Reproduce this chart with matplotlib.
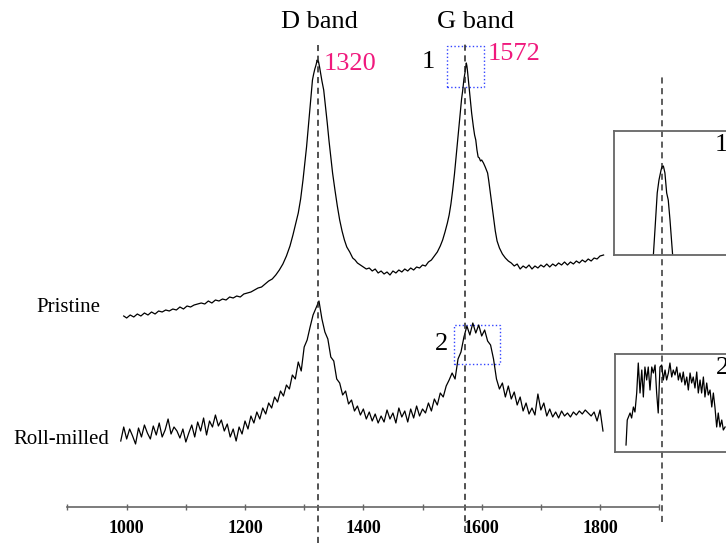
import numpy as np
import matplotlib
matplotlib.use("Agg")
import matplotlib.pyplot as plt
from matplotlib.ticker import MultipleLocator

plt.rcParams.update({
    'font.family': 'serif',
    'font.serif': ['Liberation Serif', 'DejaVu Serif'],
})

# Raman shift (cm-1) and intensity (arb. units)
pristine_x = [995, 1000, 1006, 1012, 1018, 1024, 1030, 1036, 1042, 1048, 1054, 1060, 1066, 1072,
              1078, 1084, 1090, 1096, 1102, 1108, 1114, 1120, 1126, 1132, 1138, 1144, 1150, 1156,
              1162, 1168, 1174, 1180, 1186, 1192, 1198, 1204, 1210, 1216, 1222, 1228, 1234, 1240,
              1246, 1252, 1258, 1264, 1270, 1276, 1281, 1286, 1290, 1294, 1298, 1301, 1304, 1307,
              1310, 1312, 1314, 1316, 1318, 1320, 1322, 1323, 1324, 1326, 1328, 1330, 1333, 1336,
              1339, 1342, 1345, 1348, 1352, 1356, 1360, 1364, 1368, 1372, 1377, 1382, 1386, 1390,
              1395, 1400, 1405, 1410, 1415, 1420, 1425, 1430, 1435, 1440, 1445, 1450, 1455, 1460,
              1465, 1470, 1475, 1480, 1485, 1490, 1495, 1500, 1505, 1510, 1515, 1520, 1525, 1530,
              1534, 1538, 1542, 1545, 1548, 1551, 1554, 1557, 1560, 1563, 1566, 1568, 1570, 1572,
              1573, 1574, 1575, 1576, 1577, 1579, 1581, 1583, 1586, 1588, 1590, 1592, 1594, 1596,
              1598, 1600, 1603, 1606, 1608, 1610, 1612, 1614, 1617, 1620, 1623, 1626, 1630, 1635,
              1640, 1645, 1650, 1655, 1660, 1665, 1670, 1675, 1680, 1685, 1690, 1695, 1700, 1705,
              1710, 1715, 1720, 1725, 1730, 1735, 1740, 1745, 1750, 1755, 1760, 1765, 1770, 1775,
              1780, 1785, 1790, 1795, 1800, 1806]
pristine_y = [191, 189, 192, 190, 193, 191, 194, 192, 195, 193, 196, 195, 197, 196,
              198, 197, 200, 198, 201, 200, 202, 203, 204, 203, 206, 204, 207, 206,
              208, 207, 210, 209, 211, 210, 213, 214, 215, 217, 219, 220, 223, 226,
              228, 232, 237, 243, 251, 261, 272, 284, 294, 308, 327, 343, 360, 380,
              400, 414, 427, 433, 438, 442, 447, 445, 446, 440, 433, 426, 417, 401,
              384, 366, 350, 334, 317, 301, 287, 276, 267, 260, 255, 249, 247, 244,
              242, 240, 238, 239, 236, 238, 234, 236, 233, 235, 232, 236, 234, 237,
              235, 238, 236, 239, 237, 240, 239, 242, 241, 245, 247, 251, 255, 261,
              267, 275, 284, 292, 303, 317, 333, 352, 372, 390, 408, 417, 428, 435,
              440, 444, 441, 436, 430, 418, 405, 394, 380, 372, 367, 357, 350, 349,
              346, 347, 344, 340, 337, 334, 326, 317, 303, 290, 276, 266, 259, 253,
              249, 246, 244, 241, 243, 238, 241, 239, 242, 238, 241, 239, 242, 240,
              243, 240, 243, 241, 244, 242, 245, 242, 245, 243, 246, 244, 247, 245,
              248, 246, 249, 248, 251, 252]

roll_x = list(range(990, 1806, 5))
roll_y = [66, 80, 68, 78, 71, 63, 79, 70, 82, 74,
          68, 81, 72, 84, 70, 77, 88, 73, 80, 76,
          69, 78, 65, 74, 82, 70, 85, 76, 89, 72,
          86, 80, 92, 81, 87, 76, 83, 70, 78, 66,
          80, 73, 86, 78, 91, 84, 95, 88, 99, 93,
          104, 99, 110, 105, 116, 111, 122, 118, 132, 128,
          145, 136, 160, 167, 180, 192, 199, 206, 188, 175,
          168, 150, 146, 128, 124, 112, 116, 103, 107, 96,
          101, 92, 98, 88, 95, 86, 93, 84, 91, 85,
          97, 88, 94, 84, 99, 90, 96, 85, 98, 89,
          101, 91, 98, 94, 104, 96, 108, 102, 114, 110,
          121, 127, 134, 128, 148, 155, 170, 181, 172, 184,
          174, 182, 171, 177, 166, 162, 148, 128, 118, 124,
          110, 121, 108, 115, 102, 110, 96, 104, 93, 99,
          92, 113, 97, 104, 91, 98, 90, 95, 89, 96,
          91, 94, 90, 95, 92, 96, 93, 97, 94, 91,
          95, 86, 97, 76]

# zoomed views of the G band (insets 1 and 2)
inset1_x = [1566.5, 1567.4, 1568.7, 1569.7, 1570.9, 1571.4, 1572.2, 1572.6, 1573.1,
            1574.1, 1575.0, 1576.0, 1577.5]
inset1_y = [0, 25, 62, 75, 85, 88, 89, 86, 82, 62, 55, 35, 0]

inset2_x = [1550.3, 1551.0, 1552.6, 1553.5, 1554.5, 1555.4, 1556.4, 1557.3, 1558.3, 1559.3,
            1560.2, 1561.1, 1562.1, 1563.0, 1564.0, 1565.0, 1565.9, 1566.9, 1567.8, 1568.7,
            1569.7, 1570.7, 1571.6, 1572.6, 1573.5, 1574.5, 1575.4, 1576.4, 1577.3, 1578.3,
            1579.3, 1580.2, 1581.1, 1582.1, 1583.0, 1584.0, 1585.0, 1585.9, 1586.9, 1587.8,
            1588.7, 1589.7, 1590.7, 1591.6, 1592.6, 1593.5, 1594.5, 1595.4, 1596.4, 1597.3,
            1598.3, 1599.3, 1600.2, 1601.1, 1602.1, 1603.0, 1604.0, 1605.0, 1605.9, 1606.9]
inset2_y = [7, 32, 39, 34, 45, 40, 59, 89, 59, 82,
            55, 85, 72, 85, 62, 85, 79, 87, 59, 39,
            85, 87, 72, 82, 72, 79, 89, 75, 82, 77,
            85, 72, 79, 70, 80, 67, 75, 62, 79, 69,
            75, 64, 80, 59, 72, 59, 75, 55, 69, 57,
            62, 45, 59, 45, 25, 39, 25, 32, 22, 25]

band_lines = [1323, 1572, 1905]
band_names = ['D band', 'G band']
band_peaks = ['1320', '1572']

W, H = 726, 543
fig = plt.figure(figsize=(W / 100, H / 100), dpi=100)

ax = fig.add_axes([67.5 / W, 36 / H, (659.2 - 67.5) / W, 507 / H])
ax.plot(pristine_x, pristine_y, color='black', lw=0.9)
ax.plot(roll_x, roll_y, color='black', lw=0.9)
ax.set_xlim(900, 1900)
ax.set_ylim(0, 507)

for s in ['left', 'right', 'top']:
    ax.spines[s].set_visible(False)
ax.spines['bottom'].set_color('#666666')
ax.spines['bottom'].set_linewidth(1.2)
ax.set_yticks([])
ax.xaxis.set_major_locator(MultipleLocator(200))
ax.xaxis.set_minor_locator(MultipleLocator(100))
ax.tick_params(axis='x', which='major', direction='inout', length=5, width=1,
               color='#666666', labelsize=13, pad=7)
ax.tick_params(axis='x', which='minor', direction='inout', length=4, width=1, color='#666666')
ax.set_xticks([1000, 1200, 1400, 1600, 1800])
for lab in ax.get_xticklabels():
    lab.set_fontweight('bold')

# dashed guide lines
ax.vlines(band_lines[0], -36, 462, colors='#222222', linestyles=(0, (4, 3)), lw=1.1, clip_on=False)
ax.vlines(band_lines[1], -25, 465, colors='#222222', linestyles=(0, (4, 3)), lw=1.1, clip_on=False)
ax.vlines(band_lines[2], -15, 432, colors='#333333', linestyles=(0, (4, 3)), lw=1.1, clip_on=False)

# zoom boxes
ax.add_patch(plt.Rectangle((1541, 420), 63, 41, fill=False, ec='#3344ff', ls=':', lw=1))
ax.add_patch(plt.Rectangle((1554, 143), 77, 39, fill=False, ec='#3344ff', ls=':', lw=1))

ax.text(1325, 485, band_names[0], fontsize=19, ha='center', va='center')
ax.text(1590, 485, band_names[1], fontsize=19, ha='center', va='center')
ax.text(1377, 443, band_peaks[0], fontsize=19, ha='center', va='center', color='#f0197d')
ax.text(1655, 453, band_peaks[1], fontsize=19, ha='center', va='center', color='#f0197d')
ax.text(1509, 445, '1', fontsize=19, ha='center', va='center')
ax.text(1532, 163, '2', fontsize=19, ha='center', va='center')
ax.text(901, 199, 'Pristine', fontsize=15, ha='center', va='center', clip_on=False)
ax.text(889, 67, 'Roll-milled', fontsize=15, ha='center', va='center', clip_on=False)

# insets
for left, bottom, height, xs, ys, ymax, tag in [
        (614, 543 - 255, 124, inset1_x, inset1_y, 124, '1'),
        (615, 543 - 452, 98, inset2_x, inset2_y, 98, '2')]:
    ins = fig.add_axes([left / W, bottom / H, 126 / W, height / H])
    ins.patch.set_visible(False)
    ins.plot(xs, ys, color='black', lw=0.9)
    ins.set_xlim(1544, 1616)
    ins.set_ylim(0, ymax)
    ins.set_xticks([])
    ins.set_yticks([])
    for s in ins.spines.values():
        s.set_color('#666666')
        s.set_linewidth(1.3)
    ins.text(1601.5, ymax - 14, tag, fontsize=19, ha='left', va='center')

fig.savefig('out.png', dpi=100)
